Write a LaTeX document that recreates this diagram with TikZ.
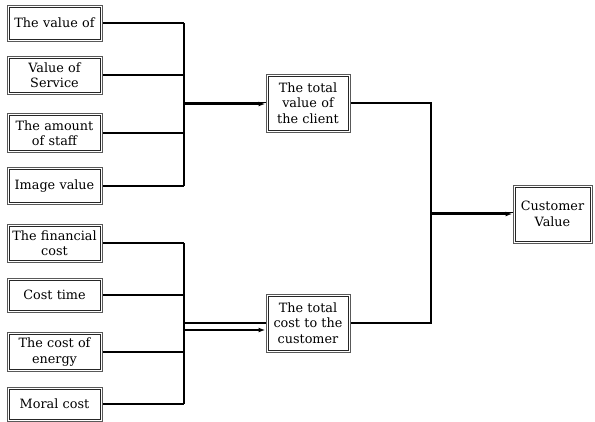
\documentclass[tikz,border=0pt]{standalone}
\usepackage{fontspec}
\setmainfont{DejaVu Serif}
\usetikzlibrary{arrows.meta}
\begin{document}
\begin{tikzpicture}[x=1pt,y=-1pt,
  box/.style={draw=black!65, line width=1pt, fill=white, inner sep=0pt, align=center,
    font=\fontsize{12.8}{15.5}\selectfont},
  inner/.style={draw=black!85, line width=0.7pt},
  lbox/.style={box, minimum width=95pt, text width=92pt},
  mbox/.style={box, minimum width=84pt, minimum height=58pt, text width=82pt},
  wire/.style={line width=1.4pt, black},
  arr/.style={wire, -{Latex[length=7pt,width=5pt]}}
]
\useasboundingbox (0,0) rectangle (595,421);
% left boxes (value group)
\node[lbox, minimum height=36pt] (b1) at (54.5,23) {The value of};
\node[lbox, minimum height=38pt] (b2) at (54.5,75) {Value of\\Service};
\node[lbox, minimum height=39pt] (b3) at (54.5,133) {The amount\\of staff};
\node[lbox, minimum height=37pt] (b4) at (54.5,186) {Image value};
% left boxes (cost group)
\node[lbox, minimum height=38pt] (b5) at (54.5,243) {The financial\\cost};
\node[lbox, minimum height=34pt] (b6) at (54.5,295) {Cost time};
\node[lbox, minimum height=39pt] (b7) at (54.5,352) {The cost of\\energy};
\node[lbox, minimum height=34pt] (b8) at (54.5,404) {Moral cost};
% middle boxes
\node[mbox] (tv) at (308,103) {The total\\value of\\the client};
\node[mbox] (tc) at (308,323) {The total\\cost to the\\customer};
% right box
\node[box, minimum width=79pt, minimum height=58pt, text width=77pt] (cv) at (552.5,214) {Customer\\Value};
% inner lines of the double borders
\foreach \n in {b1,b2,b3,b4,b5,b6,b7,b8,tv,tc,cv}
  \draw[inner] ([xshift=2.6pt,yshift=-2.6pt]\n.north west) rectangle ([xshift=-2.6pt,yshift=2.6pt]\n.south east);
% buses
\coordinate (busA) at (184,104);
\coordinate (busB) at (184,323);
\coordinate (busC) at (431,214);
\foreach \n in {b1,b2,b3,b4,b5,b6,b7,b8}
  \draw[wire] (\n.east) -- (\n.east -| busA);
\draw[wire] (b1.east -| busA) -- (b4.east -| busA);
\draw[wire] (b5.east -| busB) -- (b8.east -| busB);
\draw[arr] (busA) -- (busA -| tv.west);
\draw[wire, line width=0.8pt] ([yshift=1.6pt]busA) -- ([yshift=1.6pt]busA -| tv.west);
\draw[wire] (busB) -- (busB -| tc.west);
\draw[arr] ([yshift=-7pt]busB) -- ([yshift=-7pt]busB -| tc.west);
\draw[wire] (tv.east) -- (tv.east -| busC) -- (tc.east -| busC) -- (tc.east);
\draw[arr] (busC) -- (busC -| cv.west);
\draw[wire, line width=0.8pt] ([yshift=1.6pt]busC) -- ([yshift=1.6pt]busC -| cv.west);
\end{tikzpicture}
\end{document}
